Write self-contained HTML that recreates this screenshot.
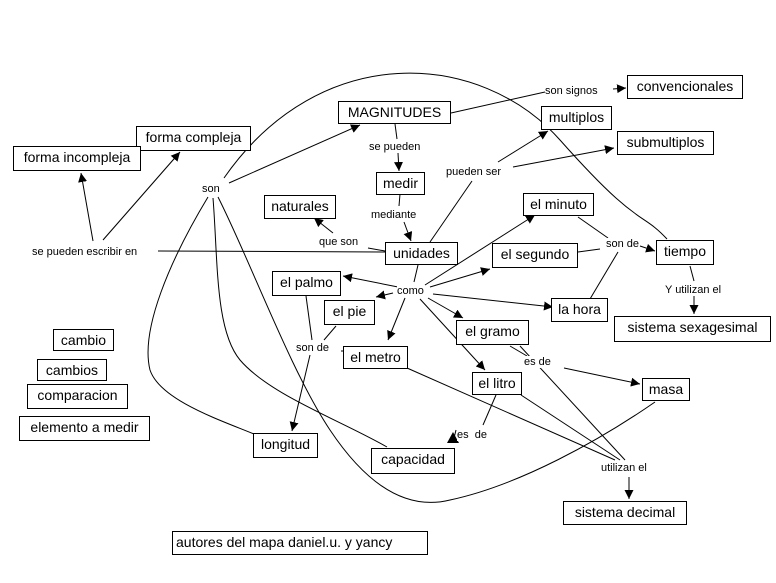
<!DOCTYPE html>
<html><head><meta charset="utf-8"><style>
body{margin:0;background:#fff;width:776px;height:583px;overflow:hidden;position:relative;font-family:"Liberation Sans",sans-serif}
.b{position:absolute;border:1px solid #000;background:#fff;font-size:14px;line-height:20px;text-align:center;white-space:nowrap;box-sizing:border-box}
.l{position:absolute;font-size:11px;background:#fff;white-space:nowrap;line-height:12px}
svg{position:absolute;left:0;top:0}
</style></head><body>
<svg width="776" height="583" viewBox="0 0 776 583">
<defs><marker id="a" viewBox="0 0 10 10" refX="10" refY="5" markerWidth="9" markerHeight="9" orient="auto" markerUnits="userSpaceOnUse"><path d="M0,0L10,5L0,10z" fill="#000"/></marker></defs>
<g stroke="#000" stroke-width="1" fill="none">
<line x1="451" y1="113" x2="545" y2="92"/>
<line x1="613" y1="89" x2="626" y2="88" marker-end="url(#a)"/>
<line x1="395" y1="124" x2="397" y2="139"/>
<line x1="398" y1="153" x2="399" y2="171" marker-end="url(#a)"/>
<line x1="400" y1="194" x2="399" y2="206"/>
<line x1="404" y1="222" x2="411" y2="241" marker-end="url(#a)"/>
<line x1="385" y1="251" x2="368" y2="248"/>
<line x1="333" y1="233" x2="314" y2="218" marker-end="url(#a)"/>
<line x1="158" y1="251" x2="385" y2="252"/>
<line x1="93" y1="241" x2="81" y2="173" marker-end="url(#a)"/>
<line x1="103" y1="240" x2="180" y2="152" marker-end="url(#a)"/>
<line x1="229" y1="183" x2="360" y2="125" marker-end="url(#a)"/>
<path d="M224,178 C320,40 480,50 560,140 S640,210 667,239"/>
<path d="M208,197 C170,260 140,330 150,370 C160,400 220,420 254,434"/>
<path d="M213,198 C218,260 215,330 240,360 C270,395 340,420 387,447"/>
<path d="M218,197 C250,260 290,370 330,430 C370,490 410,510 450,500 C520,485 600,440 655,402"/>
<line x1="430" y1="242" x2="472" y2="181"/>
<line x1="498" y1="162" x2="548" y2="131" marker-end="url(#a)"/>
<line x1="513" y1="167" x2="614" y2="148" marker-end="url(#a)"/>
<line x1="418" y1="265" x2="414" y2="282"/>
<line x1="398" y1="287" x2="343" y2="276" marker-end="url(#a)"/>
<line x1="393" y1="293" x2="376" y2="297" marker-end="url(#a)"/>
<line x1="405" y1="298" x2="388" y2="340" marker-end="url(#a)"/>
<line x1="425" y1="285" x2="535" y2="215" marker-end="url(#a)"/>
<line x1="430" y1="287" x2="490" y2="269" marker-end="url(#a)"/>
<line x1="433" y1="294" x2="553" y2="307" marker-end="url(#a)"/>
<line x1="428" y1="298" x2="463" y2="318" marker-end="url(#a)"/>
<line x1="420" y1="299" x2="485" y2="370" marker-end="url(#a)"/>
<line x1="578" y1="217" x2="608" y2="238"/>
<line x1="578" y1="252" x2="600" y2="249"/>
<line x1="590" y1="299" x2="618" y2="252"/>
<line x1="640" y1="246" x2="655" y2="251" marker-end="url(#a)"/>
<line x1="690" y1="266" x2="694" y2="281"/>
<line x1="694" y1="296" x2="694" y2="314" marker-end="url(#a)"/>
<line x1="306" y1="296" x2="312" y2="340"/>
<line x1="336" y1="326" x2="324" y2="340"/>
<line x1="341" y1="351" x2="345" y2="351"/>
<line x1="310" y1="355" x2="292" y2="431" marker-end="url(#a)"/>
<line x1="510" y1="346" x2="527" y2="356"/>
<line x1="564" y1="368" x2="640" y2="384" marker-end="url(#a)"/>
<line x1="520" y1="346" x2="625" y2="460"/>
<line x1="496" y1="395" x2="483" y2="425"/>
<line x1="456" y1="430" x2="453" y2="442" marker-start="" />
<line x1="521" y1="395" x2="620" y2="460"/>
<line x1="407" y1="368" x2="615" y2="460"/>
<line x1="629" y1="477" x2="629" y2="499" marker-end="url(#a)"/>
</g>
<path d="M447,443 L453,432 L459,443z" fill="#000"/>
</svg>
<div class="b" style="left:338px;top:101px;width:113px;height:23px">MAGNITUDES</div>
<div class="b" style="left:627px;top:75px;width:116px;height:24px">convencionales</div>
<div class="b" style="left:541px;top:106px;width:71px;height:24px">multiplos</div>
<div class="b" style="left:617px;top:131px;width:97px;height:24px">submultiplos</div>
<div class="b" style="left:136px;top:126px;width:115px;height:25px">forma compleja</div>
<div class="b" style="left:13px;top:146px;width:128px;height:25px">forma incompleja</div>
<div class="b" style="left:376px;top:172px;width:49px;height:23px">medir</div>
<div class="b" style="left:264px;top:195px;width:72px;height:24px">naturales</div>
<div class="b" style="left:523px;top:193px;width:71px;height:23px">el minuto</div>
<div class="b" style="left:385px;top:242px;width:73px;height:23px">unidades</div>
<div class="b" style="left:492px;top:243px;width:86px;height:25px">el segundo</div>
<div class="b" style="left:656px;top:240px;width:58px;height:25px">tiempo</div>
<div class="b" style="left:272px;top:271px;width:69px;height:25px">el palmo</div>
<div class="b" style="left:324px;top:300px;width:51px;height:25px">el pie</div>
<div class="b" style="left:551px;top:298px;width:57px;height:24px">la hora</div>
<div class="b" style="left:614px;top:316px;width:157px;height:26px">sistema sexagesimal</div>
<div class="b" style="left:456px;top:320px;width:73px;height:25px">el gramo</div>
<div class="b" style="left:343px;top:346px;width:65px;height:23px">el metro</div>
<div class="b" style="left:472px;top:372px;width:50px;height:23px">el litro</div>
<div class="b" style="left:642px;top:378px;width:48px;height:23px">masa</div>
<div class="b" style="left:53px;top:329px;width:61px;height:22px">cambio</div>
<div class="b" style="left:37px;top:359px;width:70px;height:22px">cambios</div>
<div class="b" style="left:27px;top:384px;width:101px;height:25px">comparacion</div>
<div class="b" style="left:19px;top:416px;width:131px;height:25px">elemento a medir</div>
<div class="b" style="left:253px;top:433px;width:65px;height:25px">longitud</div>
<div class="b" style="left:371px;top:448px;width:84px;height:26px">capacidad</div>
<div class="b" style="left:563px;top:501px;width:124px;height:24px">sistema decimal</div>
<div class="b" style="left:172px;top:531px;width:256px;height:24px;text-align:left;padding-left:3px">autores del mapa daniel.u. y yancy</div>
<div class="l" style="left:545px;top:85px">son signos</div>
<div class="l" style="left:369px;top:141px">se pueden</div>
<div class="l" style="left:446px;top:166px">pueden ser</div>
<div class="l" style="left:202px;top:183px">son</div>
<div class="l" style="left:371px;top:209px">mediante</div>
<div class="l" style="left:319px;top:236px">que son</div>
<div class="l" style="left:32px;top:246px">se pueden escribir en</div>
<div class="l" style="left:606px;top:238px">son de</div>
<div class="l" style="left:397px;top:285px">como</div>
<div class="l" style="left:665px;top:284px">Y utilizan el</div>
<div class="l" style="left:296px;top:342px">son de</div>
<div class="l" style="left:524px;top:356px">es de</div>
<div class="l" style="left:457px;top:429px">es&nbsp; de</div>
<div class="l" style="left:601px;top:462px">utilizan el</div>
</body></html>
